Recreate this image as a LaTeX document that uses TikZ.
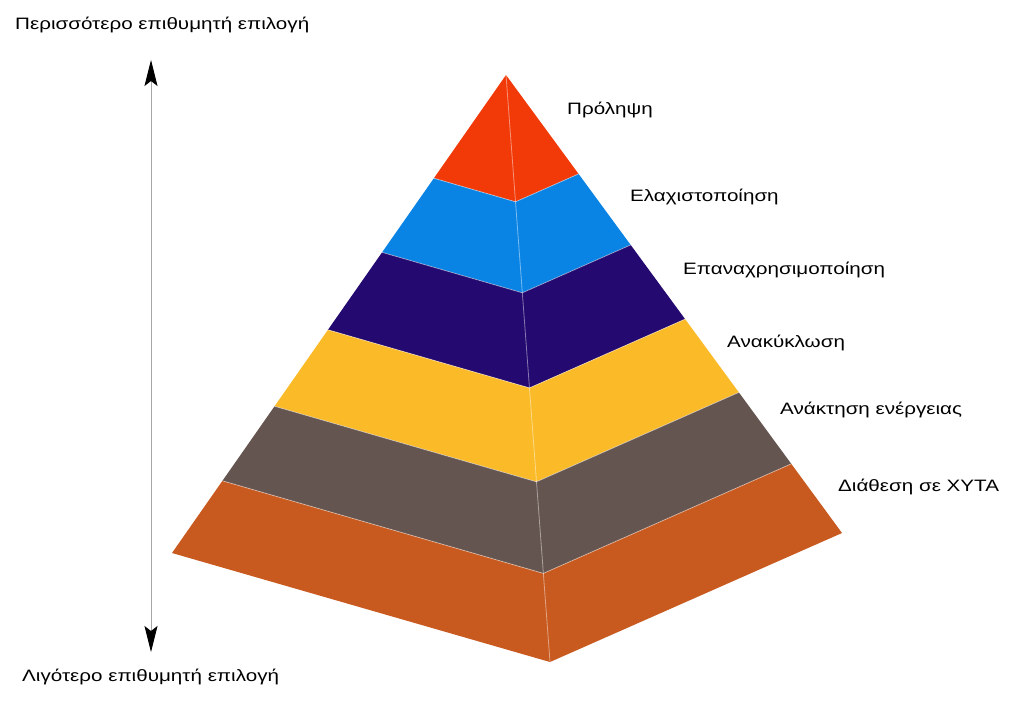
\documentclass[tikz,border=0pt]{standalone}
\usepackage{fontspec}
\setmainfont{Liberation Sans}
\newfontfamily\lblfont[FakeStretch=1.25]{Liberation Sans}
\usetikzlibrary{calc,arrows.meta}
\definecolor{cRed}{RGB}{242,58,8}
\definecolor{cBlue}{RGB}{10,132,228}
\definecolor{cNavy}{RGB}{36,10,112}
\definecolor{cYellow}{RGB}{251,186,40}
\definecolor{cGray}{RGB}{101,85,80}
\definecolor{cBrown}{RGB}{200,90,32}
\tikzset{
  lbl/.style={anchor=west, inner sep=0pt, font=\lblfont\fontsize{16.5}{18}\selectfont, text=black},
  seam/.style={draw=white, draw opacity=0.45, line width=0.8pt},
  axis/.style={draw=gray!70, line width=0.9pt, {Stealth[length=26pt,width=13pt,inset=5pt,black]}-{Stealth[length=26pt,width=13pt,inset=5pt,black]}}
}
\begin{document}
\begin{tikzpicture}[x=1pt,y=-1pt]
\useasboundingbox (0,0) rectangle (1024,709);
\fill[white] (0,0) rectangle (1024,709);
% pyramid corners
\coordinate (A) at (506,75);
\coordinate (L) at (172,553);
\coordinate (F) at (550,662);
\coordinate (R) at (842,533);
% band boundaries
\foreach \t [count=\i] in {0,0.216,0.371,0.533,0.693,0.849,1}{
  \coordinate (L\i) at ($(A)!\t!(L)$);
  \coordinate (F\i) at ($(A)!\t!(F)$);
  \coordinate (R\i) at ($(A)!\t!(R)$);
}
\foreach \c [count=\i, evaluate=\i as \j using int(\i+1)] in {cRed,cBlue,cNavy,cYellow,cGray,cBrown}{
  \fill[\c] (L\i) -- (F\i) -- (R\i) -- (R\j) -- (F\j) -- (L\j) -- cycle;
}
% seams
\foreach \i in {2,3,4,5,6}{
  \draw[seam] (L\i) -- (F\i) -- (R\i);
}
\draw[seam] (A) -- (F);
% axis
\coordinate (top) at (151,60);
\coordinate (bot) at (151,652);
\draw[axis] (bot) -- (top);
% labels
\node[lbl] (more) at (15,25) {Περισσότερο επιθυμητή επιλογή};
\node[lbl] (less) at (22,677) {Λιγότερο επιθυμητή επιλογή};
\node[lbl] (l1) at (567,110) {Πρόληψη};
\node[lbl] (l2) at (630,197) {Ελαχιστοποίηση};
\node[lbl] (l3) at (683,270) {Επαναχρησιμοποίηση};
\node[lbl] (l4) at (727,343) {Ανακύκλωση};
\node[lbl] (l5) at (780,410) {Ανάκτηση ενέργειας};
\node[lbl] (l6) at (838,487) {Διάθεση σε ΧΥΤΑ};
\end{tikzpicture}
\end{document}
